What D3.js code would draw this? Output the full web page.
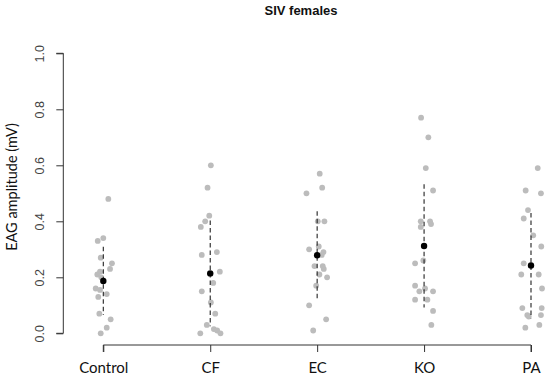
<!DOCTYPE html>
<html><head><meta charset="utf-8">
<script src="https://cdn.jsdelivr.net/npm/d3@7/dist/d3.min.js"></script>
<style>body{margin:0;background:#fff}</style>
</head><body>
<svg id="chart" width="550" height="383"></svg>
<script>
const title = "SIV females";
const yTitle = "EAG amplitude (mV)";
const categories = ["Control", "CF", "EC", "KO", "PA"];
const yTicks = [0, 0.2, 0.4, 0.6, 0.8, 1.0];

// individual measurements per group
const controlVals = [0.48,0.34,0.33,0.27,0.25,0.23,0.22,0.21,0.20,0.16,0.155,0.14,0.13,0.07,0.05,0.02,0.0];
const controlJit  = [.047,0,-.052,-.024,.081,.063,-.031,-.056,-.019,-.071,-.031,.032,-.047,-.037,.069,.032,-.024];
const cfVals = [0.60,0.52,0.42,0.40,0.38,0.29,0.28,0.22,0.18,0.15,0.11,0.07,0.03,0.015,0.01,0.0,0.0];
const cfJit  = [.006,-.025,-.009,-.047,-.088,.062,-.079,.09,.028,-.079,.006,.047,-.032,.034,.065,.096,-.093];
const ecVals = [0.57,0.52,0.50,0.40,0.40,0.31,0.30,0.29,0.28,0.24,0.24,0.23,0.21,0.20,0.17,0.10,0.05,0.01];
const ecJit  = [.024,.047,-.1,.006,.068,.015,-.075,.059,.043,-.025,.052,.062,.021,.093,-.009,-.075,.084,-.037];
const koVals = [0.77,0.70,0.59,0.51,0.40,0.40,0.39,0.38,0.26,0.25,0.17,0.16,0.15,0.15,0.12,0.12,0.08,0.03];
const koJit  = [-.028,.04,.016,.084,.056,-.031,.065,-.031,-.007,-.084,-.084,.009,-.044,.084,-.084,.031,.084,.068];
const paVals = [0.59,0.51,0.50,0.44,0.41,0.35,0.31,0.25,0.21,0.21,0.16,0.09,0.09,0.065,0.06,0.065,0.02,0.03];
const paJit  = [.063,-.05,.093,-.028,-.068,.021,.096,-.068,-.091,.072,.103,-.081,.1,-.035,-.021,.093,-.053,.078];

// group mean and standard deviation
const means = [0.187, 0.214, 0.279, 0.312, 0.242];
const sds   = [0.122, 0.189, 0.157, 0.220, 0.188];

const groups = [
  {vals: controlVals, jit: controlJit},
  {vals: cfVals, jit: cfJit},
  {vals: ecVals, jit: ecJit},
  {vals: koVals, jit: koJit},
  {vals: paVals, jit: paJit}
];

const svg = d3.select("#chart");
const x = d3.scaleLinear().domain([1, 5]).range([103.3, 531]);
const y = d3.scaleLinear().domain([0, 1]).range([333.3, 53.3]);
const axisColor = "#333";

// title
svg.append("text").attr("x", 301).attr("y", 15).attr("text-anchor", "middle")
  .attr("font-family", "Liberation Sans, Arial, sans-serif").attr("font-weight", "bold")
  .attr("font-size", 13).attr("fill", "#111").text(title);

// y axis
const yAxis = svg.append("g").attr("transform", "translate(63.3,0)")
  .call(d3.axisLeft(y).tickValues(yTicks).tickFormat(d3.format(".1f")).tickSize(7).tickPadding(0));
yAxis.select(".domain").attr("stroke", axisColor).attr("d", `M-7,${y(0)}H0V${y(1)}H-7`);
yAxis.selectAll(".tick line").attr("stroke", axisColor);
yAxis.selectAll(".tick text").attr("transform", "rotate(-90)")
  .attr("x", 0).attr("y", -24).attr("dy", "0.35em").attr("text-anchor", "middle")
  .attr("font-family", "Liberation Sans, Arial, sans-serif").attr("font-size", 12.5).attr("fill", "#444");

// x axis
const xAxis = svg.append("g").attr("transform", "translate(0,345)")
  .call(d3.axisBottom(x).tickValues([1,2,3,4,5]).tickFormat((d) => categories[d - 1]).tickSize(7).tickPadding(10));
xAxis.select(".domain").attr("stroke", axisColor).attr("d", `M${x(1)},7V0H${x(5)}V7`);
xAxis.selectAll(".tick line").attr("stroke", axisColor);
xAxis.selectAll(".tick text").attr("font-family", "Lato, 'Open Sans', sans-serif")
  .attr("font-size", 15).attr("fill", "#111").attr("dy", "0.71em");

// y title
svg.append("text").attr("transform", "translate(17,187) rotate(-90)").attr("text-anchor", "middle")
  .attr("font-family", "Lato, 'Open Sans', sans-serif").attr("font-size", 14.5).attr("fill", "#111").text(yTitle);

// points
groups.forEach((g, i) => {
  svg.append("g").selectAll("circle").data(g.vals).join("circle")
    .attr("cx", (d, j) => x(i + 1 + g.jit[j])).attr("cy", (d) => y(d))
    .attr("r", 2.9).attr("fill", "#bcbcbc");
});

// mean ± sd
categories.forEach((c, i) => {
  svg.append("line").attr("x1", x(i + 1)).attr("x2", x(i + 1))
    .attr("y1", y(means[i] + sds[i])).attr("y2", y(means[i] - sds[i]))
    .attr("stroke", "#222").attr("stroke-width", 1.1).attr("stroke-dasharray", "4.5,3");
  svg.append("circle").attr("cx", x(i + 1)).attr("cy", y(means[i])).attr("r", 3.2).attr("fill", "#000");
});
</script>
</body></html>
